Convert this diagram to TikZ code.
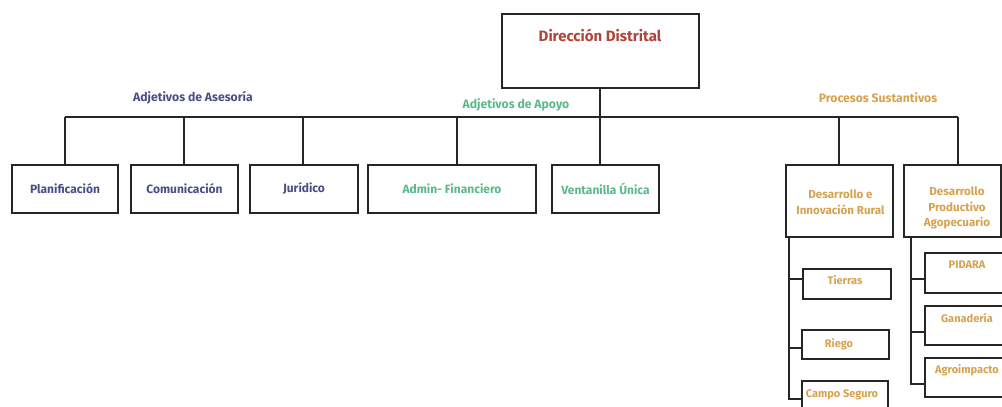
\documentclass[tikz,border=0pt]{standalone}
\usepackage{fontspec}
\setmainfont{Fira Sans}
\definecolor{dirred}{HTML}{B1443A}
\definecolor{asblue}{HTML}{4A4E87}
\definecolor{apgreen}{HTML}{5DB88A}
\definecolor{prgold}{HTML}{D6A24E}
\begin{document}
\begin{tikzpicture}[x=1pt,y=-1pt,
  box/.style={draw=black!85,line width=1.5pt,rectangle,inner sep=0pt,fill=white},
  conn/.style={draw=black!85,line width=1.5pt},
  txt/.style={font=\bfseries\fontsize{12}{14}\selectfont,align=center,inner sep=0pt},
  stxt/.style={font=\bfseries\fontsize{11}{13}\selectfont,align=center,inner sep=0pt},
  mtxt/.style={font=\bfseries\fontsize{11.6}{15.5}\selectfont,align=center,inner sep=0pt,text=prgold},
  lbl/.style={font=\bfseries\fontsize{12.2}{14}\selectfont,inner sep=0pt}]
\useasboundingbox (0,0) rectangle (1002,407);
\clip (0,0) rectangle (1002,407);
% boxes
\node[box,minimum width=197pt,minimum height=74pt] (dir) at (600.5,51) {};
\node[font=\bfseries\fontsize{15}{18}\selectfont,text=dirred,inner sep=0pt] (dirt) at (600,35) {Dirección Distrital};
\node[box,minimum width=106pt,minimum height=48pt,txt,text=asblue] (plan) at (65,189) {Planificación};
\node[box,minimum width=107pt,minimum height=48pt,txt,text=asblue] (com) at (184.5,189) {Comunicación};
\node[box,minimum width=108pt,minimum height=48pt,txt,text=asblue] (jur) at (304,189) {Jurídico};
\node[box,minimum width=168pt,minimum height=48pt,txt,text=apgreen] (adm) at (452,189) {Admin- Financiero};
\node[box,minimum width=107pt,minimum height=48pt,txt,text=apgreen] (ven) at (605.5,189) {Ventanilla Única};
\node[box,minimum width=107pt,minimum height=72pt] (dri) at (839.5,201) {};
\node[mtxt] (drit) at (840.5,202) {Desarrollo e\\Innovación Rural};
\node[box,minimum width=97pt,minimum height=72pt] (dpa) at (952.5,201) {};
\node[mtxt] (dpat) at (957,208) {Desarrollo\\Productivo\\Agopecuario};
% labels
\node[lbl,text=asblue] (lase) at (193,98) {Adjetivos de Asesoría};
\node[lbl,text=apgreen] (lapo) at (516,105) {Adjetivos de Apoyo};
\node[lbl,text=prgold] (lpro) at (878,98) {Procesos Sustantivos};
% main bus
\coordinate (busL) at (65,117);
\coordinate (busR) at (958,117);
\coordinate (busM) at (600,117);
\draw[conn] (dir.south -| busM) -- (busM);
\draw[conn] (busL) -- (busR);
\draw[conn] (busL) -- (plan.north -| busL);
\draw[conn] (184,117) -- (com.north -| 184,0);
\draw[conn] (303,117) -- (jur.north -| 303,0);
\draw[conn] (457,117) -- (adm.north -| 457,0);
\draw[conn] (busM) -- (ven.north -| busM);
\draw[conn] (839,117) -- (dri.north -| 839,0);
\draw[conn] (busR) -- (dpa.north -| busR);
% sub boxes left
\node[box,minimum width=88pt,minimum height=30pt] (tie) at (847,284) {};
\node[box,minimum width=87pt,minimum height=29pt] (rie) at (845.5,344.5) {};
\node[box,minimum width=86pt,minimum height=30pt] (cam) at (845,396) {};
\node[stxt,text=prgold] (tiet) at (845,280) {Tierras};
\node[stxt,text=prgold] (riet) at (839,344) {Riego};
\node[stxt,text=prgold] (camt) at (842,395) {Campo Seguro};
\coordinate (tL) at (789,237);
\coordinate (bL) at (789,399);
\draw[conn] (dri.south -| tL) -- (bL) -- (cam.west |- bL);
\draw[conn] (789,279) -- (tie.west |- 0,279);
\draw[conn] (789,348) -- (rie.west |- 0,348);
% sub boxes right
\node[box,minimum width=85pt,minimum height=40pt] (pid) at (967.5,273) {};
\node[box,minimum width=85pt,minimum height=39pt] (gan) at (967.5,325.5) {};
\node[box,minimum width=85pt,minimum height=39pt] (agr) at (967.5,377.5) {};
\node[stxt,text=prgold] (pidt) at (967,265) {PIDARA};
\node[stxt,text=prgold] (gant) at (967,318) {Ganadería};
\node[stxt,text=prgold] (agrt) at (967,370) {Agroimpacto};
\coordinate (tR) at (911,237);
\coordinate (bR) at (911,384);
\draw[conn] (dpa.south -| tR) -- (bR) -- (agr.west |- bR);
\draw[conn] (911,279) -- (pid.west |- 0,279);
\draw[conn] (911,332) -- (gan.west |- 0,332);
\end{tikzpicture}
\end{document}
